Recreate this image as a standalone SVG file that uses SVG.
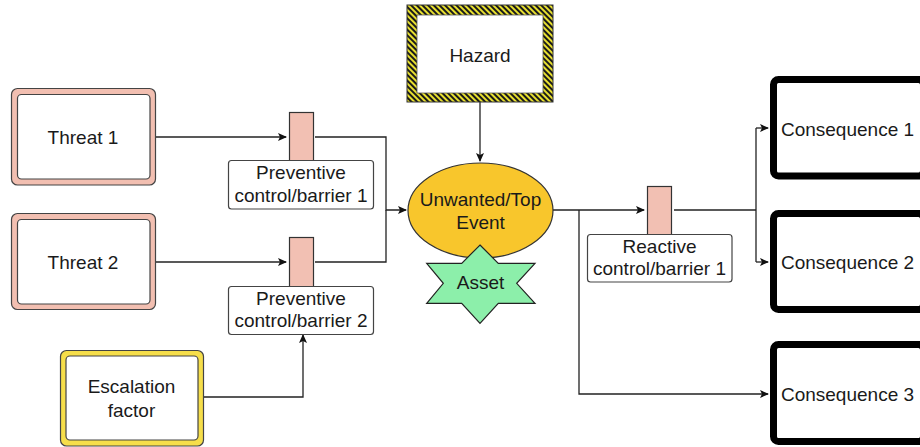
<svg xmlns="http://www.w3.org/2000/svg" width="920" height="447" viewBox="0 0 920 447">
<defs>
<pattern id="haz" patternUnits="userSpaceOnUse" width="4" height="4" patternTransform="rotate(45)">
<rect width="4" height="4" fill="#E8E030"/>
<rect width="4" height="2" fill="#1a1a1a"/>
</pattern>
<marker id="arr" markerWidth="10" markerHeight="10" refX="8" refY="4" orient="auto" markerUnits="userSpaceOnUse">
<path d="M0,0 L9,4 L0,8 L2,4 z" fill="#111"/>
</marker>
</defs>
<style>
text{font-family:"Liberation Sans",Arial,sans-serif;font-size:19px;fill:#1a1a1a;text-anchor:middle}
.ln{fill:none;stroke:#222;stroke-width:1.3}
.thr{fill:#F2BFB1;stroke:#444;stroke-width:1.2}
.inner{fill:#fff;stroke:#444;stroke-width:1.2}
.bar{fill:#F2C0B3;stroke:#333;stroke-width:1.2}
.lab{fill:#fff;stroke:#444;stroke-width:1.2}
.con{fill:#fff;stroke:#000;stroke-width:7}
</style>
<rect width="920" height="447" fill="#fff"/>
<g id="connectors">
<path class="ln" d="M155,137 H286" marker-end="url(#arr)"/>
<path class="ln" d="M315,137 H386 V210 H406" marker-end="url(#arr)"/>
<path class="ln" d="M155,262 H286" marker-end="url(#arr)"/>
<path class="ln" d="M315,262 H386 V210"/>
<path class="ln" d="M203,397 H303 V335" marker-end="url(#arr)"/>
<path class="ln" d="M480,102 V161" marker-end="url(#arr)"/>
<path class="ln" d="M553,210 H644" marker-end="url(#arr)"/>
<path class="ln" d="M579,210 V394 H768" marker-end="url(#arr)"/>
<path class="ln" d="M674,210 H756"/>
<path class="ln" d="M756,128 V262"/>
<path class="ln" d="M756,128 H768" marker-end="url(#arr)"/>
<path class="ln" d="M756,262 H768" marker-end="url(#arr)"/>
</g>
<g id="threat1">
<rect class="thr" x="11.5" y="88.5" width="144" height="96.5" rx="6"/>
<rect class="inner" x="17.5" y="94.5" width="132.5" height="84.5" rx="4"/>
<text x="83" y="144">Threat 1</text>
</g>
<g id="threat2">
<rect class="thr" x="11.5" y="213.5" width="144" height="96" rx="6"/>
<rect class="inner" x="17.5" y="219.5" width="132.5" height="84.5" rx="4"/>
<text x="83" y="269">Threat 2</text>
</g>
<g id="escalation">
<rect x="60.5" y="350.5" width="143" height="95.5" rx="6" fill="#F6DE4A" stroke="#444" stroke-width="1.2"/>
<rect class="inner" x="66" y="356" width="132" height="84" rx="4"/>
<text x="131.5" y="393">Escalation</text>
<text x="131.5" y="416.5">factor</text>
</g>
<g id="barrier1">
<rect class="bar" x="289.5" y="112.5" width="24" height="50"/>
<rect class="lab" x="228.5" y="160.5" width="145" height="48.5" rx="3"/>
<text x="301" y="179">Preventive</text>
<text x="301" y="201.5">control/barrier 1</text>
</g>
<g id="barrier2">
<rect class="bar" x="289.5" y="237.5" width="24" height="50"/>
<rect class="lab" x="228.5" y="286.5" width="145" height="48" rx="3"/>
<text x="301" y="304.5">Preventive</text>
<text x="301" y="327">control/barrier 2</text>
</g>
<g id="hazard">
<rect x="407" y="5" width="146" height="97" fill="url(#haz)" stroke="#333" stroke-width="1"/>
<rect x="417" y="15" width="126" height="78" fill="#fff" stroke="#555" stroke-width="0.8"/>
<text x="480" y="61.5">Hazard</text>
</g>
<g id="top-event">
<ellipse cx="480.5" cy="210.5" rx="72.5" ry="47.5" fill="#F8C62C" stroke="#333" stroke-width="1.2"/>
<text x="480.5" y="206">Unwanted/Top</text>
<text x="480.5" y="228.5">Event</text>
</g>
<g id="asset">
<polygon points="480,245 498.3,263.3 535,263.3 516.7,283.3 535,303.3 498.3,303.3 480,323.3 461.7,303.3 426.7,303.3 443.3,283.3 426.7,263.3 461.7,263.3" fill="#8CEFAA" stroke="#222" stroke-width="1.2"/>
<text x="480.5" y="289">Asset</text>
</g>
<g id="reactive">
<rect class="bar" x="647.5" y="186.5" width="24" height="50"/>
<rect class="lab" x="587.5" y="234.5" width="144.5" height="47.5" rx="3"/>
<text x="659.5" y="252.5">Reactive</text>
<text x="659.5" y="275">control/barrier 1</text>
</g>
<g id="consequence1">
<rect class="con" x="773.5" y="79.5" width="150" height="96.5" rx="5"/>
<text x="847.5" y="135.5">Consequence 1</text>
</g>
<g id="consequence2">
<rect class="con" x="773.5" y="213.5" width="150" height="96" rx="5"/>
<text x="847.5" y="268.5">Consequence 2</text>
</g>
<g id="consequence3">
<rect class="con" x="773.5" y="344.5" width="150" height="97" rx="5"/>
<text x="847.5" y="401">Consequence 3</text>
</g>
</svg>
